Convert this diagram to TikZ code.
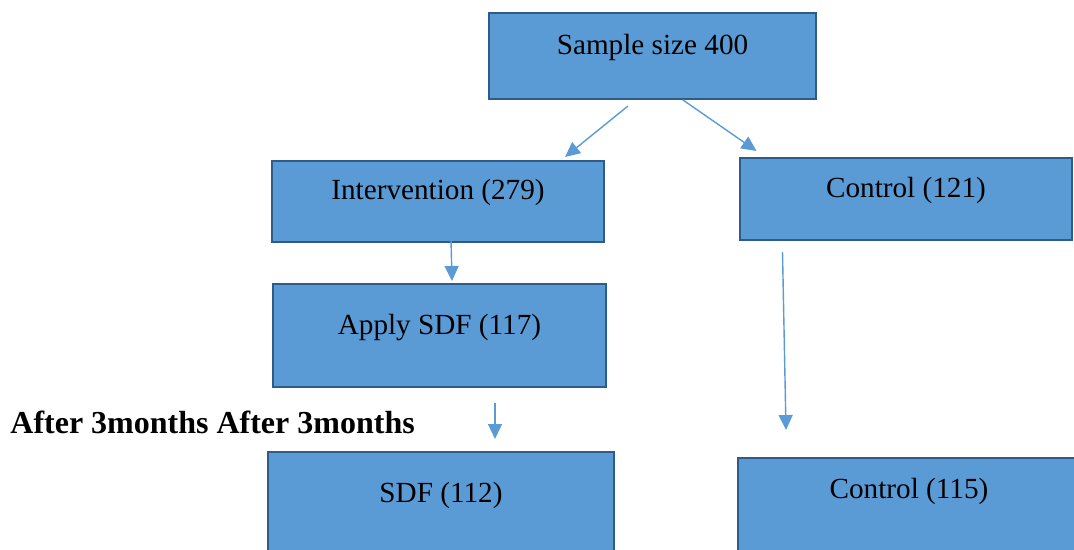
\documentclass[tikz,border=0pt]{standalone}
\usepackage{fontspec}
\setmainfont{Liberation Serif}
\usetikzlibrary{arrows.meta,calc}
\definecolor{boxfill}{HTML}{5B9BD5}
\definecolor{boxline}{HTML}{2F5B88}
\begin{document}
\begin{tikzpicture}[x=0.5pt,y=0.5pt,
  box/.style={draw=boxline,fill=boxfill,line width=1.3pt,inner sep=0pt,outer sep=0pt,
    anchor=north west,font=\fontsize{14.6}{17}\selectfont},
  arr/.style={draw=boxfill,line width=0.7pt,-{Triangle[length=7.5pt,width=7pt]}}]
\useasboundingbox (0,0) rectangle (1074,-550);
\node[box,minimum width=163.5pt,text height=21pt,text depth=22pt] (sample) at (489,-13) {Sample size 400};
\node[box,minimum width=166pt,text height=19.5pt,text depth=21pt] (interv) at (272,-161) {Intervention (279)};
\node[box,minimum width=166pt,text height=20pt,text depth=21pt] (ctrla) at (740,-158) {Control (121)};
\node[box,minimum width=166.5pt,text height=25pt,text depth=26.5pt] (apply) at (273,-284) {Apply SDF (117)};
\node[box,minimum width=173pt,text height=25pt,text depth=29pt] (sdf) at (268,-452) {SDF (112)};
\node[box,minimum width=182pt,text height=20pt,text depth=31pt] (ctrlb) at (738,-458) {Control (115)\hspace*{11pt}};
\node[font=\bfseries\fontsize{16}{19}\selectfont,anchor=base west,inner sep=0pt] (after) at (10,-433) {After 3months After 3months};
\draw[arr] ($(sample.south)+(-24.5,-7)$) -- ($(interv.north)+(127,4)$);
\draw[arr] ($(sample.south)+(30.5,-1)$) -- ($(ctrla.north)+(-149.5,7)$);
\draw[arr] ($(interv.south)+(13,2)$) -- ($(apply.north)+(12.5,3)$);
\draw[arr] ($(apply.south)+(55.5,-16)$) -- ($(sdf.north)+(54,13)$);
\draw[arr] ($(ctrla.south)+(-123.5,-12)$) -- ($(ctrlb.north)+(-134,28)$);
\end{tikzpicture}
\end{document}
